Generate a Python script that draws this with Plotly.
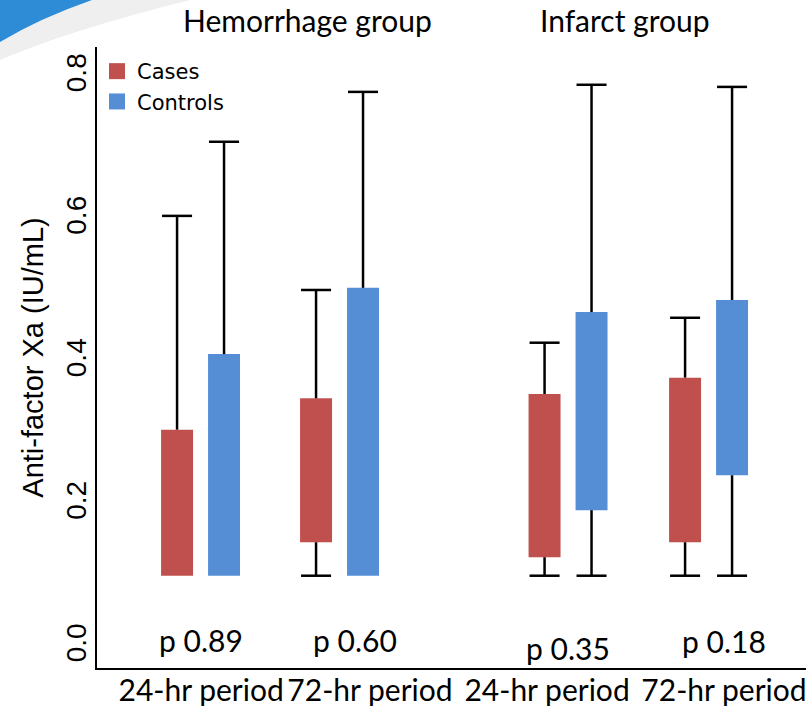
import plotly.graph_objects as go

# ---------------- data ----------------
categories = ["24-hr period", "72-hr period", "24-hr period", "72-hr period"]
group_titles = ["Hemorrhage group", "Infarct group"]
p_values = ["p 0.89", "p 0.60", "p 0.35", "p 0.18"]

cases_q1 = [0.10, 0.147, 0.126, 0.147]
cases_q3 = [0.305, 0.349, 0.355, 0.378]
cases_min = [0.10, 0.10, 0.10, 0.10]
cases_max = [0.605, 0.501, 0.427, 0.462]

controls_q1 = [0.10, 0.10, 0.192, 0.241]
controls_q3 = [0.411, 0.504, 0.470, 0.487]
controls_min = [0.10, 0.10, 0.10, 0.10]
controls_max = [0.709, 0.779, 0.789, 0.786]

y_ticks = [0.0, 0.2, 0.4, 0.6, 0.8]

# ---------------- layout constants ----------------
W, H = 809, 708
ML, MR, MT, MB = 97, 3, 47, 40
slot_pos = [0.0, 1.0, 2.644, 3.655]      # x slot of each category
label_pos = [0.004, 1.219, 2.493, 3.766]  # x of category labels
pval_pos = [0.004, 1.112, 2.644, 3.766]
pval_y = [0.010, 0.010, -0.001, 0.009]
title_pos = [0.766, 3.054]
offset = 0.169
bar_w = 0.230
cap_half = 0.108
x_range = [-0.745, 4.356]
y_range = [-0.0295, 0.842]

RED = "#C0504D"
BLUE = "#558ED5"
CAL = "Lato, Carlito, sans-serif"
ARIAL = "Liberation Sans, Arial, sans-serif"

fig = go.Figure()


def add_series(name, color, q1, q3, vmin, vmax, sign):
    xs = [p + sign * offset for p in slot_pos]
    # whiskers first (beneath boxes)
    wx, wy = [], []
    for x, a, b, lo, hi in zip(xs, q1, q3, vmin, vmax):
        if hi > b:
            wx += [x, x, None, x - cap_half, x + cap_half, None]
            wy += [b, hi, None, hi, hi, None]
        if lo < a:
            wx += [x, x, None, x - cap_half, x + cap_half, None]
            wy += [a, lo, None, lo, lo, None]
    fig.add_trace(go.Scatter(x=wx, y=wy, mode="lines",
                             line=dict(color="black", width=2.5),
                             showlegend=False, hoverinfo="skip"))
    fig.add_trace(go.Bar(x=xs, y=[b - a for a, b in zip(q1, q3)], base=q1,
                         width=bar_w, marker=dict(color=color, line=dict(width=0)),
                         name=name, showlegend=False))
    fig.add_trace(go.Scatter(x=[None], y=[None], mode="markers", name=name,
                             marker=dict(symbol="square", size=16, color=color)))


add_series("Cases", RED, cases_q1, cases_q3, cases_min, cases_max, -1)
add_series("Controls", BLUE, controls_q1, controls_q3, controls_min, controls_max, 1)


def px_to_paper(px, py):
    return (px - ML) / (W - ML - MR), (H - MB - py) / (H - MT - MB)


# decorative corner swoosh
g0 = px_to_paper(0, 0); g1 = px_to_paper(190, 0); gc = px_to_paper(70, 30); g2 = px_to_paper(0, 60)
b0 = px_to_paper(0, 0); b1 = px_to_paper(92, 0); bc = px_to_paper(40, 18); b2 = px_to_paper(0, 42)
shapes = [
    dict(type="path", xref="paper", yref="paper", layer="below",
         path=f"M {g0[0]},{g0[1]} L {g1[0]},{g1[1]} Q {gc[0]},{gc[1]} {g2[0]},{g2[1]} Z",
         fillcolor="#efefef", line=dict(width=0)),
    dict(type="path", xref="paper", yref="paper", layer="below",
         path=f"M {b0[0]},{b0[1]} L {b1[0]},{b1[1]} Q {bc[0]},{bc[1]} {b2[0]},{b2[1]} Z",
         fillcolor="#2E8BD6", line=dict(width=0)),
]

annotations = []
for t, x in zip(group_titles, title_pos):
    annotations.append(dict(text=t, x=x, xref="x", y=px_to_paper(0, 20)[1], yref="paper",
                            showarrow=False, xanchor="center", yanchor="middle",
                            font=dict(family=CAL, size=30, color="black")))
for t, x, y in zip(p_values, pval_pos, pval_y):
    annotations.append(dict(text=t, x=x, y=y, xref="x", yref="y", showarrow=False,
                            xanchor="center", yanchor="middle",
                            font=dict(family=CAL, size=30, color="black")))

fig.update_layout(
    width=W, height=H,
    margin=dict(l=ML, r=MR, t=MT, b=MB, autoexpand=False),
    plot_bgcolor="white", paper_bgcolor="white",
    barmode="overlay",
    shapes=shapes,
    annotations=annotations,
    legend=dict(x=0.0, y=px_to_paper(0, 51)[1], xanchor="left", yanchor="top",
                bgcolor="rgba(0,0,0,0)", font=dict(family="DejaVu Sans", size=21, color="black"),
                tracegroupgap=0),
    xaxis=dict(range=x_range, tickvals=label_pos, ticktext=categories, automargin=False,
               showline=True, linecolor="black", linewidth=2, ticks="",
               showgrid=False, zeroline=False, ticklabelstandoff=-5,
               tickfont=dict(family=CAL, size=30, color="black")),
    yaxis=dict(range=y_range, tickvals=y_ticks, tickformat=".1f", tickangle=-90, automargin=False,
               showline=True, linecolor="black", linewidth=2, ticks="",
               showgrid=False, zeroline=False, ticklabelstandoff=-2,
               tickfont=dict(family=ARIAL, size=28, color="black"),
               title=dict(text="Anti-factor Xa (IU/mL)", standoff=9,
                          font=dict(family=ARIAL, size=29, color="black"))),
)

fig.write_html("out.html", config={"displayModeBar": False},
               post_script="document.body.style.margin='0';document.body.style.padding='0';")
